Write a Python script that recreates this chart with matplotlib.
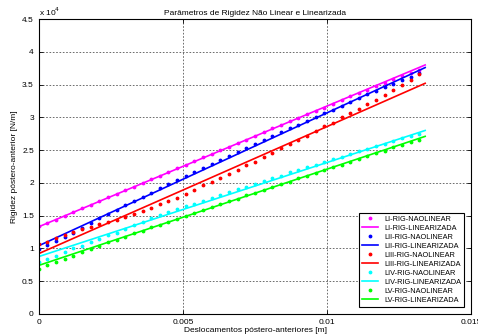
import matplotlib
matplotlib.use("Agg")
import matplotlib.pyplot as plt

plt.rcParams['font.family'] = ['Liberation Sans', 'DejaVu Sans']

# displacement of the non linear points [m]
desloc = [0.0, 0.0003, 0.0006, 0.0009, 0.0012, 0.0015, 0.0018, 0.0021, 0.0024, 0.0027,
          0.0030, 0.0033, 0.0036, 0.0039, 0.0042, 0.0045, 0.0048, 0.0051, 0.0054, 0.0057,
          0.0060, 0.0063, 0.0066, 0.0069, 0.0072, 0.0075, 0.0078, 0.0081, 0.0084, 0.0087,
          0.0090, 0.0093, 0.0096, 0.0099, 0.0102, 0.0105, 0.0108, 0.0111, 0.0114, 0.0117,
          0.0120, 0.0123, 0.0126, 0.0129, 0.0132]

# stiffness, non linear (x 10^4 N/m)
li_nl = [1.34, 1.38, 1.44, 1.50, 1.55, 1.61, 1.66, 1.72, 1.78, 1.83,
         1.89, 1.94, 2.00, 2.06, 2.11, 2.17, 2.22, 2.28, 2.33, 2.39,
         2.44, 2.50, 2.55, 2.61, 2.66, 2.72, 2.77, 2.83, 2.88, 2.94,
         2.99, 3.05, 3.10, 3.15, 3.21, 3.26, 3.32, 3.37, 3.42, 3.48,
         3.53, 3.58, 3.63, 3.68, 3.73]
lii_nl = [0.99, 1.05, 1.11, 1.18, 1.24, 1.31, 1.39, 1.46, 1.53, 1.59,
          1.66, 1.72, 1.79, 1.85, 1.92, 1.98, 2.04, 2.11, 2.17, 2.23,
          2.29, 2.35, 2.41, 2.47, 2.53, 2.59, 2.65, 2.71, 2.77, 2.83,
          2.89, 2.95, 3.00, 3.06, 3.12, 3.18, 3.24, 3.29, 3.35, 3.40,
          3.46, 3.51, 3.57, 3.62, 3.68]
liii_nl = [1.07, 1.10, 1.16, 1.20, 1.25, 1.29, 1.33, 1.37, 1.40, 1.44,
           1.48, 1.52, 1.57, 1.62, 1.67, 1.72, 1.77, 1.83, 1.89, 1.96,
           2.01, 2.07, 2.14, 2.20, 2.27, 2.32, 2.39, 2.46, 2.53, 2.60,
           2.66, 2.72, 2.79, 2.87, 2.92, 3.00, 3.07, 3.13, 3.20, 3.27,
           3.34, 3.42, 3.49, 3.57, 3.66]
liv_nl = [0.79, 0.84, 0.89, 0.95, 1.00, 1.04, 1.09, 1.15, 1.20, 1.24,
          1.30, 1.35, 1.40, 1.46, 1.51, 1.55, 1.60, 1.64, 1.68, 1.73,
          1.77, 1.81, 1.86, 1.90, 1.94, 1.99, 2.03, 2.07, 2.11, 2.16,
          2.20, 2.24, 2.28, 2.32, 2.36, 2.40, 2.44, 2.48, 2.52, 2.56,
          2.60, 2.64, 2.68, 2.71, 2.75]
lv_nl = [0.69, 0.74, 0.79, 0.84, 0.89, 0.94, 0.99, 1.04, 1.09, 1.13,
         1.18, 1.23, 1.27, 1.32, 1.36, 1.41, 1.45, 1.50, 1.54, 1.58,
         1.63, 1.67, 1.72, 1.76, 1.81, 1.85, 1.89, 1.94, 1.98, 2.02,
         2.07, 2.11, 2.15, 2.20, 2.24, 2.28, 2.32, 2.37, 2.41, 2.45,
         2.49, 2.54, 2.58, 2.62, 2.66]

# linearized stiffness, end points (x 10^4 N/m)
x_lin = [0.0, 0.0134]
li_lin = [1.33, 3.80]
lii_lin = [1.04, 3.76]
liii_lin = [0.92, 3.52]
liv_lin = [0.875, 2.80]
lv_lin = [0.74, 2.71]

names = ['LI', 'LII', 'LIII', 'LIV', 'LV']
cores = ['#ff00ff', '#0000ff', '#ff0000', '#00ffff', '#00ff00']
nl_series = [li_nl, lii_nl, liii_nl, liv_nl, lv_nl]
lin_series = [li_lin, lii_lin, liii_lin, liv_lin, lv_lin]

fig = plt.figure(figsize=(4.78, 3.35), dpi=100)
ax = fig.add_axes([0.081, 0.063, 0.905, 0.880])

for nome, cor, nl, lin in zip(names, cores, nl_series, lin_series):
    ax.plot(desloc, [v * 1e4 for v in nl], '.', color=cor, markersize=3.5,
            label=nome + '-RIG-NAOLINEAR')
    ax.plot(x_lin, [v * 1e4 for v in lin], '-', color=cor, linewidth=1.2,
            label=nome + '-RIG-LINEARIZADA')

ax.set_xlim(0, 0.015)
ax.set_ylim(0, 45000)
ax.set_xticks([0, 0.005, 0.01, 0.015])
ax.set_xticklabels(['0', '0.005', '0.01', '0.015'])
yt = [0, 5000, 10000, 15000, 20000, 25000, 30000, 35000, 40000, 45000]
ax.set_yticks(yt)
ax.set_yticklabels(['0', '0.5', '1', '1.5', '2', '2.5', '3', '3.5', '4', '4.5'])
ax.tick_params(direction='in', labelsize=6, length=3, width=0.6, top=True, right=True)
ax.grid(True, linestyle=(0, (2, 2)), color='#555555', linewidth=0.6)
for s in ax.spines.values():
    s.set_linewidth(0.8)

ax.text(0.0, 1.005, 'x 10$^4$', transform=ax.transAxes, fontsize=6, va='bottom')
ax.set_title('Parâmetros de Rigidez Não Linear e Linearizada', fontsize=6, pad=3)
ax.set_xlabel('Deslocamentos póstero-anteriores [m]', fontsize=6, labelpad=1)
ax.set_ylabel('Rigidez póstero-anterior [N/m]', fontsize=6, labelpad=3)

leg = ax.legend(loc='lower right', bbox_to_anchor=(0.992, 0.012), fontsize=5.3,
                fancybox=False, edgecolor='black', framealpha=1,
                handlelength=2.2, labelspacing=0.25, borderpad=0.4)
leg.get_frame().set_linewidth(0.8)

fig.savefig('out.png', dpi=100)
